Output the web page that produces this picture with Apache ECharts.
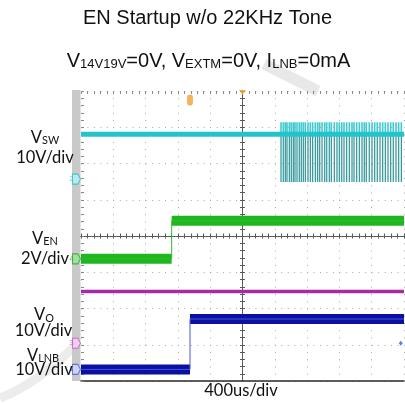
<!DOCTYPE html>
<html><head><meta charset="utf-8">
<script src="https://cdn.jsdelivr.net/npm/echarts@6/dist/echarts.min.js"></script>
<style>html,body{margin:0;padding:0;background:#fff}#c{width:405px;height:403px}</style>
</head><body><div id="c"></div>
<script>
// ---- time base: microseconds relative to screen centre, 400 us/div ----
const timeMin = -2000, timeMax = 2000, timePerDiv = 400;
const divMin = -4, divMax = 4;

// ---- VSW (10 V/div) ----
const vswScale = 10, vswGround = 1.57;           // ground offset in divisions from centre
const vswLevel = 12.4;
const vswSpikeHigh = 15.7, vswSpikeLow = -0.8;
const vswSpikeTimes = [477, 505, 530, 551, 580, 604, 629, 650, 675, 703, 728, 753, 778, 811, 840,
  869, 902, 931, 956, 985, 1018, 1043, 1075, 1100, 1137, 1170, 1199, 1229, 1257, 1290, 1323,
  1356, 1381, 1414, 1447, 1480, 1508, 1533, 1570, 1604, 1637, 1669, 1703, 1736, 1769, 1802,
  1835, 1867, 1901, 1934, 1967];

// ---- VEN (2 V/div) ----
const enScale = 2, enGround = -0.63;
const enTimes = [-2000, -877, -877, 2000];
const enVolts = [0, 0, 2.1, 2.1];

// ---- VO (10 V/div) ----
const voScale = 10, voGround = -2.96;
const voTimes = [-2000, 2000];
const voVolts = [14.3, 14.3];

// ---- VLNB (10 V/div) ----
const lnbScale = 10, lnbGround = -3.68;
const lnbTimes = [-2000, -650, -650, 2000];
const lnbVolts = [0, 0, 13.9, 13.9];

// trigger marker time
const trigTime = -650;

// ---- helpers ----
function toDiv(v, scale, ground) { return ground + v / scale; }
function trace(times, volts, scale, ground) {
  return times.map((t, i) => [t, toDiv(volts[i], scale, ground)]);
}
// same trace, but with vertical edges removed (for the thick noisy band)
function band(times, volts, scale, ground) {
  const out = [];
  times.forEach((t, i) => {
    if (i > 0 && t === times[i - 1]) out.push([t, '-']);
    out.push([t, toDiv(volts[i], scale, ground)]);
  });
  return out;
}
function spikes(level, peak) {
  const out = [];
  vswSpikeTimes.forEach(t => {
    out.push([t, toDiv(level, vswScale, vswGround)]);
    out.push([t, toDiv(peak, vswScale, vswGround)]);
    out.push([t, '-']);
  });
  return out;
}

const G = { left: 81, right: 1, top: 91, bottom: 22 };
const grids = [0, 1, 2, 3].map(() => Object.assign({}, G));

const xBase = { type: 'value', min: timeMin, max: timeMax, interval: timePerDiv,
  axisLabel: { show: false }, splitLine: { show: false } };
const yBase = { type: 'value', min: divMin, max: divMax, interval: 1,
  axisLabel: { show: false }, splitLine: { show: false } };
const tickCol = '#8a8a8a';

const xAxes = [
  Object.assign({}, xBase, { gridIndex: 0, position: 'bottom',
    axisLine: { onZero: false, lineStyle: { color: '#2a2a2a', width: 1.5 } },
    axisTick: { show: false },
    splitLine: { show: true, lineStyle: { color: '#a8a8a8', type: [1, 6.25], width: 1 } } }),
  Object.assign({}, xBase, { gridIndex: 1, position: 'top',
    axisLine: { show: false, onZero: false },
    axisTick: { show: true, inside: true, length: 3, lineStyle: { color: tickCol } },
    minorTick: { show: true, splitNumber: 5, length: 3, lineStyle: { color: tickCol } } }),
  Object.assign({}, xBase, { gridIndex: 2, position: 'bottom',
    axisLine: { onZero: true, lineStyle: { color: '#5a5a5a', width: 1 } },
    axisTick: { show: true, length: 2.5, lineStyle: { color: '#5a5a5a' } },
    minorTick: { show: true, splitNumber: 5, length: 2.5, lineStyle: { color: '#5a5a5a' } } }),
  Object.assign({}, xBase, { gridIndex: 3, position: 'top',
    axisLine: { onZero: true, lineStyle: { color: '#5a5a5a', width: 1 } },
    axisTick: { show: true, length: 2.5, lineStyle: { color: '#5a5a5a' } },
    minorTick: { show: true, splitNumber: 5, length: 2.5, lineStyle: { color: '#5a5a5a' } } })
];
const yAxes = [
  Object.assign({}, yBase, { gridIndex: 0, position: 'left',
    axisLine: { show: false, onZero: false },
    axisTick: { show: true, inside: true, length: 3, lineStyle: { color: tickCol } },
    minorTick: { show: true, splitNumber: 5, length: 3, lineStyle: { color: tickCol } },
    splitLine: { show: true, lineStyle: { color: '#a8a8a8', type: [1, 5.46], width: 1 } } }),
  Object.assign({}, yBase, { gridIndex: 1, position: 'left',
    axisLine: { onZero: true, lineStyle: { color: '#5a5a5a', width: 1 } },
    axisTick: { show: true, length: 2.5, lineStyle: { color: '#5a5a5a' } },
    minorTick: { show: true, splitNumber: 5, length: 2.5, lineStyle: { color: '#5a5a5a' } } }),
  Object.assign({}, yBase, { gridIndex: 2, position: 'right',
    axisLine: { onZero: true, lineStyle: { color: '#5a5a5a', width: 1 } },
    axisTick: { show: true, length: 2.5, lineStyle: { color: '#5a5a5a' } },
    minorTick: { show: true, splitNumber: 5, length: 2.5, lineStyle: { color: '#5a5a5a' } } }),
  Object.assign({}, yBase, { gridIndex: 3, show: false })
];

function lineSeries(name, data, color, width, z) {
  return { name, type: 'line', xAxisIndex: 0, yAxisIndex: 0, data, symbol: 'none',
    animation: false, silent: true, z: z || 3,
    lineStyle: { color, width, cap: 'butt' } };
}

const markerPath = 'path://M0,0 L6,0 L9,5 L6,10 L0,10 Z';
function groundMarker(y, fill, stroke, txt) {
  return { type: 'scatter', xAxisIndex: 0, yAxisIndex: 0, clip: false, animation: false, silent: true,
    z: 6, data: [[timeMin, y]], symbol: markerPath, symbolSize: [8, 10], symbolOffset: [-4.5, 0],
    itemStyle: { color: fill, borderColor: stroke, borderWidth: 1 },
    label: { show: true, position: 'inside', offset: [-5, 0], formatter: txt, fontSize: 7, color: stroke } };
}

const calibri = 'Lato, "Open Sans", sans-serif';
const arial = '"Liberation Sans", Arial, sans-serif';
function label(x, y, main, sub, size) {
  const rich = {
    m: { fontSize: size, fontFamily: calibri, fill: '#111', lineHeight: 20, verticalAlign: 'bottom' },
    s: { fontSize: size * 0.66, fontFamily: calibri, fill: '#111', lineHeight: 20, verticalAlign: 'bottom' }
  };
  return { type: 'text', x, y, z: 10, style: { text: '{m|' + main + '}' + (sub ? '{s|' + sub + '}' : ''), rich,
    align: 'center', verticalAlign: 'middle' } };
}
function plain(x, y, txt, size, fam) {
  return { type: 'text', x, y, z: 10, style: { text: txt, fontSize: size, fontFamily: fam, fill: '#111',
    align: 'center', verticalAlign: 'middle' } };
}

const subRich = {
  m: { fontSize: 20, fontFamily: arial, fill: '#111', lineHeight: 24, verticalAlign: 'bottom' },
  s: { fontSize: 13, fontFamily: arial, fill: '#111', lineHeight: 24, verticalAlign: 'bottom' }
};

const option = {
  backgroundColor: '#ffffff',
  animation: false,
  grid: grids,
  xAxis: xAxes,
  yAxis: yAxes,
  graphic: [
    // watermark strokes
    { type: 'polyline', z: -5, silent: true, shape: { points: [[264, 64], [318, 91]] },
      style: { stroke: '#e8e8e8', lineWidth: 11, fill: null } },
    { type: 'bezierCurve', z: -5, silent: true, shape: { x1: 0, y1: 398, cpx1: 35, cpy1: 385, x2: 76, y2: 345 },
      style: { stroke: '#ececec', lineWidth: 9, fill: null } },
    // left gray bar of the scope display
    { type: 'rect', z: -1, silent: true, shape: { x: 72, y: 90, width: 8.5, height: 291 }, style: { fill: '#c9c9c9' } },
    plain(207.5, 18, 'EN Startup w/o 22KHz Tone', 20, arial),
    { type: 'text', x: 208.5, y: 59, z: 10, style: {
      text: '{m|V}{s|14V19V}{m|=0V, V}{s|EXTM}{m|=0V, I}{s|LNB}{m|=0mA}', rich: subRich,
      align: 'center', verticalAlign: 'middle' } },
    label(45, 136, 'V', 'SW', 16.5),
    plain(45, 157.5, '10V/div', 16.5, calibri),
    label(45, 237, 'V', 'EN', 16.5),
    plain(45, 258.5, '2V/div', 16.5, calibri),
    label(44, 313.5, 'V', 'O', 16.5),
    plain(43.5, 330.5, '10V/div', 16.5, calibri),
    label(43, 354, 'V', 'LNB', 16.5),
    plain(44, 370, '10V/div', 16.5, calibri),
    plain(241, 391, '400us/div', 16.5, calibri)
  ],
  series: [
    // VSW
    lineSeries('VSW', [[timeMin, toDiv(vswLevel, vswScale, vswGround)], [timeMax, toDiv(vswLevel, vswScale, vswGround)]], '#22c3cb', 5, 4),
    lineSeries('VSW up', spikes(vswLevel, vswSpikeHigh), '#3fcad1', 1.6, 3),
    lineSeries('VSW down', spikes(vswLevel, vswSpikeLow), '#2a9499', 1.2, 3),
    // VEN
    lineSeries('VEN band', band(enTimes, enVolts, enScale, enGround), '#1eb81e', 10, 4),
    lineSeries('VEN', trace(enTimes, enVolts, enScale, enGround), '#35b835', 1, 4),
    // VO
    lineSeries('VO', trace(voTimes, voVolts, voScale, voGround), '#a62aa6', 3.5, 4),
    // VLNB
    lineSeries('VLNB band', band(lnbTimes, lnbVolts, lnbScale, lnbGround), '#0b0fa2', 10, 4),
    lineSeries('VLNB', trace(lnbTimes, lnbVolts, lnbScale, lnbGround), '#4a58d8', 1, 4),
    // ground markers
    groundMarker(vswGround, '#b8f0f4', '#28bcc6', '2'),
    groundMarker(enGround, '#9fe09f', '#22a822', '4'),
    groundMarker(voGround, '#f6d0f6', '#c055c0', '3'),
    groundMarker(lnbGround, '#d0d6fa', '#4a5ad8', '1'),
    // trigger markers
    { type: 'scatter', xAxisIndex: 0, yAxisIndex: 0, clip: false, animation: false, silent: true, z: 7,
      data: [[0, divMax]], symbol: 'triangle', symbolRotate: 180, symbolSize: [7, 5], symbolOffset: [0, 1.5],
      itemStyle: { color: '#f5a020' } },
    { type: 'scatter', xAxisIndex: 0, yAxisIndex: 0, clip: false, animation: false, silent: true, z: 7,
      data: [[trigTime, 3.75]], symbol: 'roundRect', symbolSize: [5, 10],
      itemStyle: { color: '#f5a030', borderColor: '#e08a10', borderWidth: 0.5 } },
    { type: 'scatter', xAxisIndex: 0, yAxisIndex: 0, clip: false, animation: false, silent: true, z: 7,
      data: [[1960, voGround]], symbol: 'diamond', symbolSize: [4, 5],
      itemStyle: { color: '#3a5ae8' } }
  ]
};

const chart = echarts.init(document.getElementById('c'), null, { renderer: 'canvas' });
chart.setOption(option);
</script>
</body></html>
